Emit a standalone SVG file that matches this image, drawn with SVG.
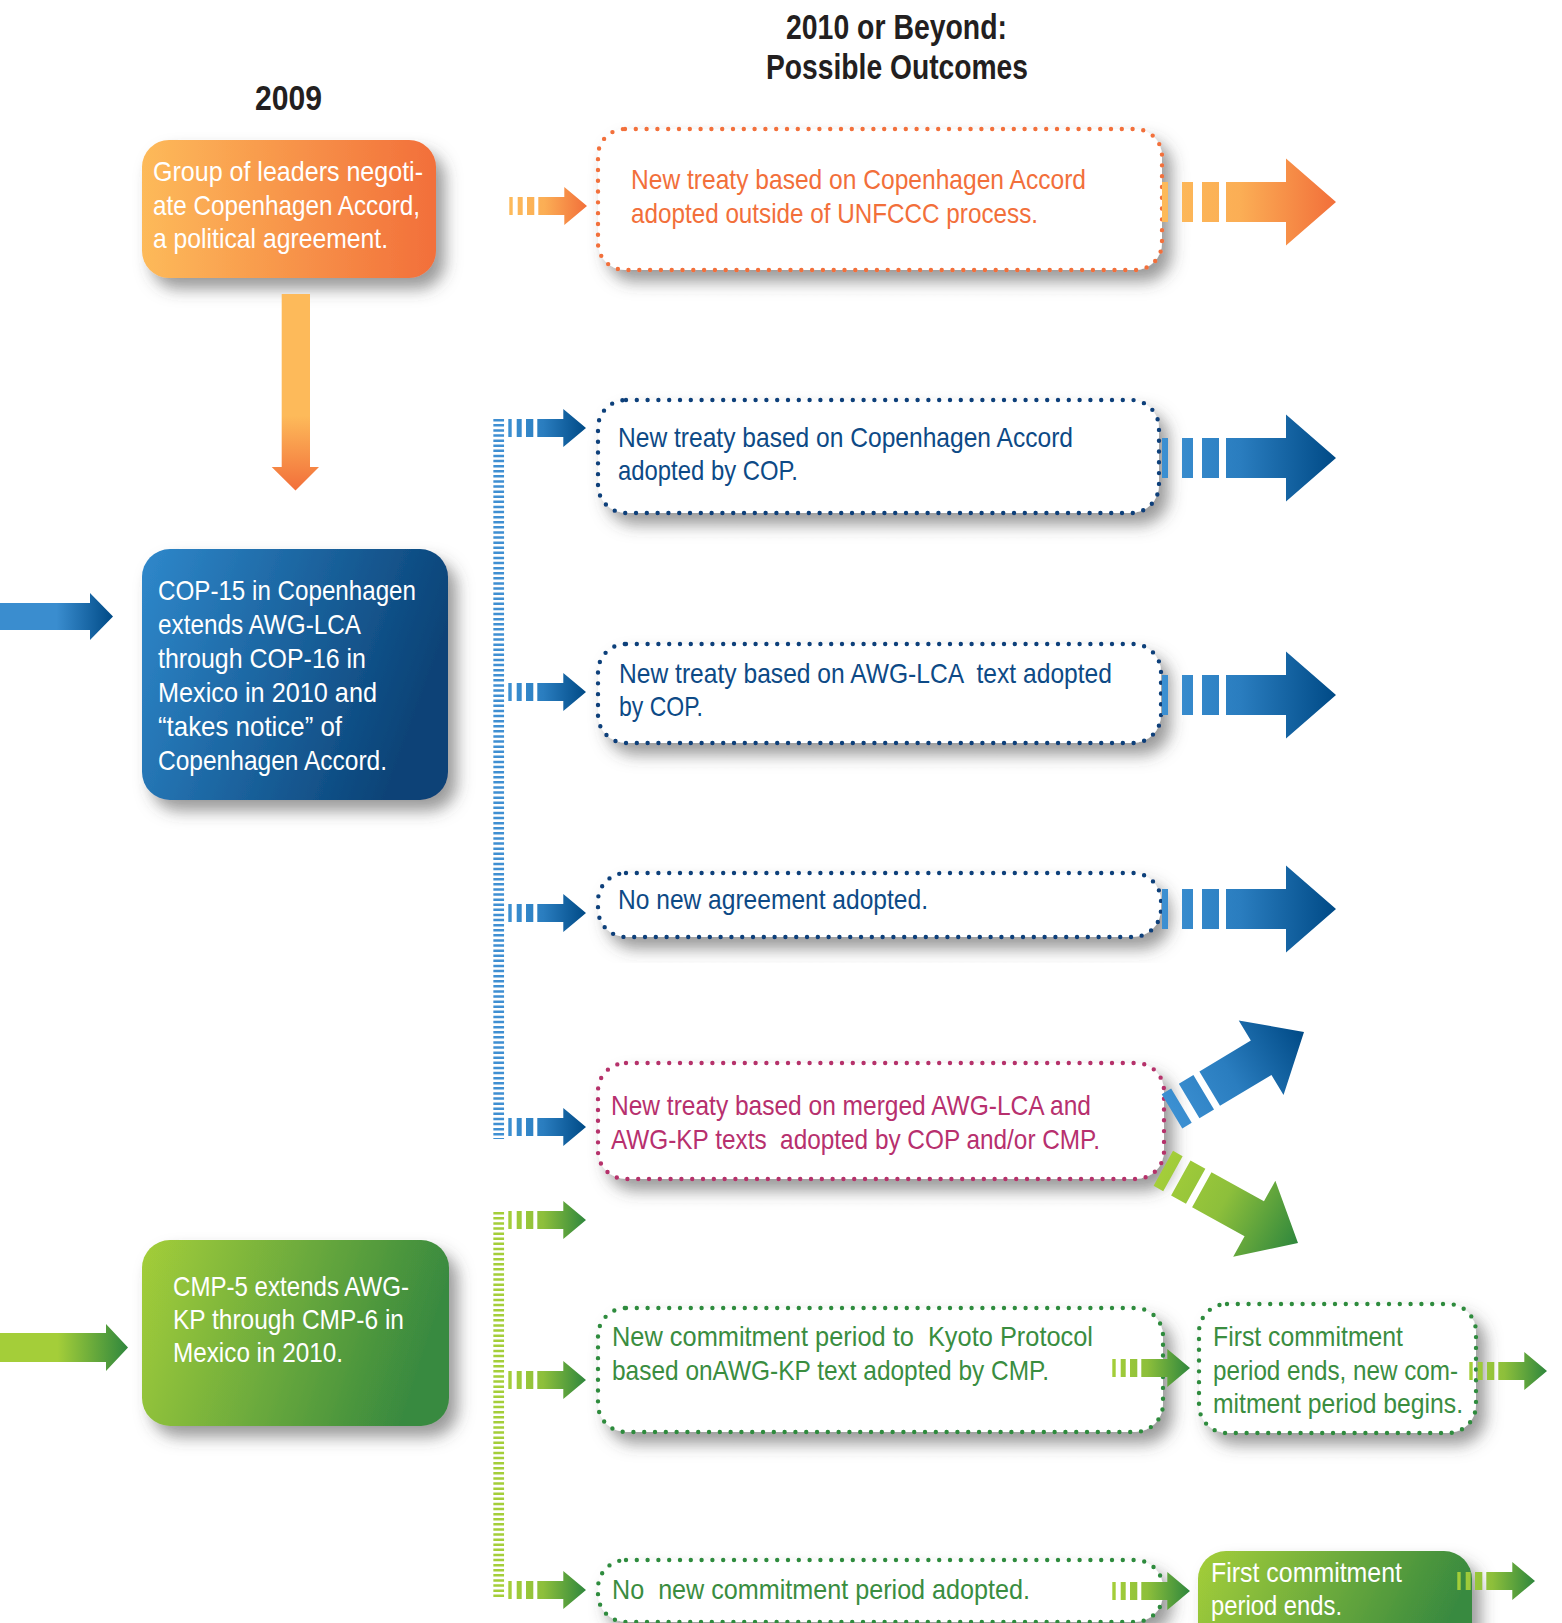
<svg xmlns="http://www.w3.org/2000/svg" xmlns:xlink="http://www.w3.org/1999/xlink" width="1562" height="1623" viewBox="0 0 1562 1623">
<style>
.t{font-family:"Liberation Sans Narrow","Liberation Sans",Arial,sans-serif;font-size:28.5px;white-space:pre}
.h{font-family:"Liberation Sans Narrow","Liberation Sans",Arial,sans-serif;font-size:35px;font-weight:bold;fill:#231F20}
.w{fill:#FFFFFF}
.dot{fill:#FFFFFF;stroke-width:4.4;stroke-dasharray:0 10.8;stroke-linecap:round}
.sh{filter:url(#shadow)}
</style>
<defs>
<filter id="shadow" x="-20%" y="-30%" width="145%" height="170%">
<feDropShadow dx="9" dy="11" stdDeviation="8" flood-color="#4a4a4a" flood-opacity="0.55"/>
</filter>
<linearGradient id="gOrBox" x1="0" y1="0" x2="1" y2="0"><stop offset="0" stop-color="#FDBA5A"/><stop offset="1" stop-color="#F26F3A"/></linearGradient>
<linearGradient id="gBlBox" x1="0" y1="0" x2="1" y2="0.3"><stop offset="0" stop-color="#2F88CB"/><stop offset="1" stop-color="#0A4377"/></linearGradient>
<linearGradient id="gGrBox" x1="0" y1="0" x2="1" y2="0.2"><stop offset="0" stop-color="#A4CE39"/><stop offset="1" stop-color="#398A3F"/></linearGradient>
<linearGradient id="gOrAr" x1="0" y1="0" x2="1" y2="0"><stop offset="0" stop-color="#FDBA5A"/><stop offset="0.45" stop-color="#FBAE55"/><stop offset="1" stop-color="#F26F3A"/></linearGradient>
<linearGradient id="gBlAr" x1="0" y1="0" x2="1" y2="0"><stop offset="0" stop-color="#3C90D2"/><stop offset="0.45" stop-color="#2A7DBF"/><stop offset="1" stop-color="#004A86"/></linearGradient>
<linearGradient id="gGrAr" x1="0" y1="0" x2="1" y2="0"><stop offset="0" stop-color="#A4CE39"/><stop offset="0.45" stop-color="#8DBF3B"/><stop offset="1" stop-color="#2F873D"/></linearGradient>
<linearGradient id="gBlLeft" x1="0" y1="0" x2="1" y2="0"><stop offset="0" stop-color="#3A8DCF"/><stop offset="0.5" stop-color="#3A8DCF"/><stop offset="1" stop-color="#004A86"/></linearGradient>
<linearGradient id="gGrLeft" x1="0" y1="0" x2="1" y2="0"><stop offset="0" stop-color="#A4CE39"/><stop offset="0.45" stop-color="#A4CE39"/><stop offset="1" stop-color="#2F873D"/></linearGradient>
<linearGradient id="gOrDown" x1="0" y1="0" x2="0" y2="1"><stop offset="0" stop-color="#FDBA5A"/><stop offset="0.62" stop-color="#FDBA5A"/><stop offset="1" stop-color="#F26F3A"/></linearGradient>
<path id="bigArrow" d="M-174,-20h6v40h-6z M-154,-20h11v40h-11z M-134,-20h17v40h-17z M-110,-20h60v-23.5l50,43.5l-50,43.5v-23.5h-60z"/>
<path id="diagArrow" d="M-154,-20h11v40h-11z M-134,-20h17v40h-17z M-110,-20h60v-23.5l50,43.5l-50,43.5v-23.5h-60z"/>
<path id="smallArrow" d="M-77.7,-9h3.4v18h-3.4z M-69.3,-9h5v18h-5z M-60,-9h7.3v18h-7.3z M-48.7,-9h26v-10l22.7,19l-22.7,19v-10h-26z"/>
</defs>
<rect width="1562" height="1623" fill="#FFFFFF"/>

<g id="titles">
<text class="h" x="255" y="110" textLength="67" lengthAdjust="spacingAndGlyphs">2009</text>
<text class="h" x="786" y="39" textLength="221" lengthAdjust="spacingAndGlyphs">2010 or Beyond:</text>
<text class="h" x="766" y="79" textLength="262" lengthAdjust="spacingAndGlyphs">Possible Outcomes</text>
</g>

<g id="node-leaders">
<rect class="sh" x="142" y="140" width="294" height="138" rx="27" fill="url(#gOrBox)"/>
<text class="t w" x="153" y="181" textLength="270" lengthAdjust="spacingAndGlyphs">Group of leaders negoti-</text>
<text class="t w" x="153" y="215" textLength="267" lengthAdjust="spacingAndGlyphs">ate Copenhagen Accord,</text>
<text class="t w" x="153" y="248" textLength="235" lengthAdjust="spacingAndGlyphs">a political agreement.</text>
</g>

<g id="node-cop15">
<rect class="sh" x="142" y="549" width="306" height="251" rx="28" fill="url(#gBlBox)"/>
<text class="t w" x="158" y="600" textLength="258" lengthAdjust="spacingAndGlyphs">COP-15 in Copenhagen</text>
<text class="t w" x="158" y="634" textLength="203" lengthAdjust="spacingAndGlyphs">extends AWG-LCA</text>
<text class="t w" x="158" y="668" textLength="208" lengthAdjust="spacingAndGlyphs">through COP-16 in</text>
<text class="t w" x="158" y="702" textLength="219" lengthAdjust="spacingAndGlyphs">Mexico in 2010 and</text>
<text class="t w" x="158" y="736" textLength="184" lengthAdjust="spacingAndGlyphs">“takes notice” of</text>
<text class="t w" x="158" y="770" textLength="229" lengthAdjust="spacingAndGlyphs">Copenhagen Accord.</text>
</g>

<g id="node-cmp5">
<rect class="sh" x="142" y="1240" width="307" height="186" rx="28" fill="url(#gGrBox)"/>
<text class="t w" x="173" y="1296" textLength="236" lengthAdjust="spacingAndGlyphs">CMP-5 extends AWG-</text>
<text class="t w" x="173" y="1329" textLength="231" lengthAdjust="spacingAndGlyphs">KP through CMP-6 in</text>
<text class="t w" x="173" y="1362" textLength="170" lengthAdjust="spacingAndGlyphs">Mexico in 2010.</text>
</g>

<g id="node-outside">
<rect class="dot sh" x="598" y="129" width="564" height="141" rx="27" stroke="#F26F3A"/>
<text class="t" x="631" y="189" fill="#F26F3A" textLength="455" lengthAdjust="spacingAndGlyphs">New treaty based on Copenhagen Accord</text>
<text class="t" x="631" y="223" fill="#F26F3A" textLength="407" lengthAdjust="spacingAndGlyphs">adopted outside of UNFCCC process.</text>
</g>

<g id="node-accord-cop">
<rect class="dot sh" x="598" y="400" width="561" height="113" rx="28" stroke="#0B3F7A"/>
<text class="t" x="618" y="447" fill="#0D4A86" textLength="455" lengthAdjust="spacingAndGlyphs">New treaty based on Copenhagen Accord</text>
<text class="t" x="618" y="480" fill="#0D4A86" textLength="180" lengthAdjust="spacingAndGlyphs">adopted by COP.</text>
</g>

<g id="node-lca-cop">
<rect class="dot sh" x="598" y="644" width="563" height="99" rx="28" stroke="#0B3F7A"/>
<text class="t" x="619" y="683" fill="#0D4A86" textLength="493" lengthAdjust="spacingAndGlyphs">New treaty based on AWG-LCA  text adopted</text>
<text class="t" x="619" y="716" fill="#0D4A86" textLength="84" lengthAdjust="spacingAndGlyphs">by COP.</text>
</g>

<g id="node-no-agreement">
<rect class="dot sh" x="598" y="873" width="563" height="64" rx="28" stroke="#0B3F7A"/>
<text class="t" x="618" y="909" fill="#0D4A86" textLength="310" lengthAdjust="spacingAndGlyphs">No new agreement adopted.</text>
</g>

<g id="node-merged">
<rect class="dot sh" x="598" y="1063" width="566" height="116" rx="28" stroke="#B5306B"/>
<text class="t" x="611" y="1115" fill="#B7306E" textLength="480" lengthAdjust="spacingAndGlyphs">New treaty based on merged AWG-LCA and</text>
<text class="t" x="611" y="1149" fill="#B7306E" textLength="489" lengthAdjust="spacingAndGlyphs">AWG-KP texts  adopted by COP and/or CMP.</text>
</g>

<g id="node-new-period">
<rect class="dot sh" x="598" y="1308" width="565" height="124" rx="28" stroke="#2E8B3E"/>
<text class="t" x="612" y="1346" fill="#3A8D3F" textLength="481" lengthAdjust="spacingAndGlyphs">New commitment period to  Kyoto Protocol</text>
<text class="t" x="612" y="1380" fill="#3A8D3F" textLength="437" lengthAdjust="spacingAndGlyphs">based onAWG-KP text adopted by CMP.</text>
</g>

<g id="node-first-ends-new">
<rect class="dot sh" x="1199" y="1304" width="277" height="129" rx="28" stroke="#2E8B3E"/>
<text class="t" x="1213" y="1346" fill="#3A8D3F" textLength="190" lengthAdjust="spacingAndGlyphs">First commitment</text>
<text class="t" x="1213" y="1380" fill="#3A8D3F" textLength="245" lengthAdjust="spacingAndGlyphs">period ends, new com-</text>
<text class="t" x="1213" y="1413" fill="#3A8D3F" textLength="250" lengthAdjust="spacingAndGlyphs">mitment period begins.</text>
</g>

<g id="node-no-period">
<rect class="dot sh" x="598" y="1560" width="565" height="62" rx="28" stroke="#2E8B3E"/>
<text class="t" x="612" y="1599" fill="#3A8D3F" textLength="418" lengthAdjust="spacingAndGlyphs">No  new commitment period adopted.</text>
</g>

<g id="node-first-ends">
<rect class="sh" x="1198" y="1551" width="274" height="110" rx="28" fill="url(#gGrBox)"/>
<text class="t w" x="1211" y="1582" textLength="191" lengthAdjust="spacingAndGlyphs">First commitment</text>
<text class="t w" x="1211" y="1615" textLength="131" lengthAdjust="spacingAndGlyphs">period ends.</text>
</g>

<g id="connectors">
<line x1="498.7" y1="419" x2="498.7" y2="1139" stroke="#3F8FD2" stroke-width="10.7" stroke-dasharray="2.5 2.6"/>
<line x1="498.7" y1="1212" x2="498.7" y2="1597" stroke="#A4CE39" stroke-width="10.7" stroke-dasharray="2.5 2.6"/>
<path d="M281.7,294 H310 V467 H319 L295.5,490.5 L271.7,467 H281.7 Z" fill="url(#gOrDown)"/>
<path d="M0,603 H90 V593 L113,616.5 L90,640 V630 H0 Z" fill="url(#gBlLeft)"/>
<path d="M0,1333 H106 V1324 L128,1347.5 L106,1371 V1362 H0 Z" fill="url(#gGrLeft)"/>
<use xlink:href="#smallArrow" transform="translate(587,206)" fill="url(#gOrAr)"/>
<use xlink:href="#smallArrow" transform="translate(586,428)" fill="url(#gBlAr)"/>
<use xlink:href="#smallArrow" transform="translate(586,692)" fill="url(#gBlAr)"/>
<use xlink:href="#smallArrow" transform="translate(586,913)" fill="url(#gBlAr)"/>
<use xlink:href="#smallArrow" transform="translate(586,1127)" fill="url(#gBlAr)"/>
<use xlink:href="#smallArrow" transform="translate(586,1220)" fill="url(#gGrAr)"/>
<use xlink:href="#smallArrow" transform="translate(586,1380)" fill="url(#gGrAr)"/>
<use xlink:href="#smallArrow" transform="translate(586,1590)" fill="url(#gGrAr)"/>
<use xlink:href="#smallArrow" transform="translate(1190,1368)" fill="url(#gGrAr)"/>
<use xlink:href="#smallArrow" transform="translate(1547,1371)" fill="url(#gGrAr)"/>
<use xlink:href="#smallArrow" transform="translate(1190,1591)" fill="url(#gGrAr)"/>
<use xlink:href="#smallArrow" transform="translate(1535,1581)" fill="url(#gGrAr)"/>
<use xlink:href="#bigArrow" transform="translate(1336,202)" fill="url(#gOrAr)"/>
<use xlink:href="#bigArrow" transform="translate(1336,458)" fill="url(#gBlAr)"/>
<use xlink:href="#bigArrow" transform="translate(1336,695)" fill="url(#gBlAr)"/>
<use xlink:href="#bigArrow" transform="translate(1336,909)" fill="url(#gBlAr)"/>
<use xlink:href="#diagArrow" transform="translate(1304,1032) rotate(-31)" fill="url(#gBlAr)"/>
<use xlink:href="#diagArrow" transform="translate(1298,1243) rotate(29)" fill="url(#gGrAr)"/>
</g>
</svg>
